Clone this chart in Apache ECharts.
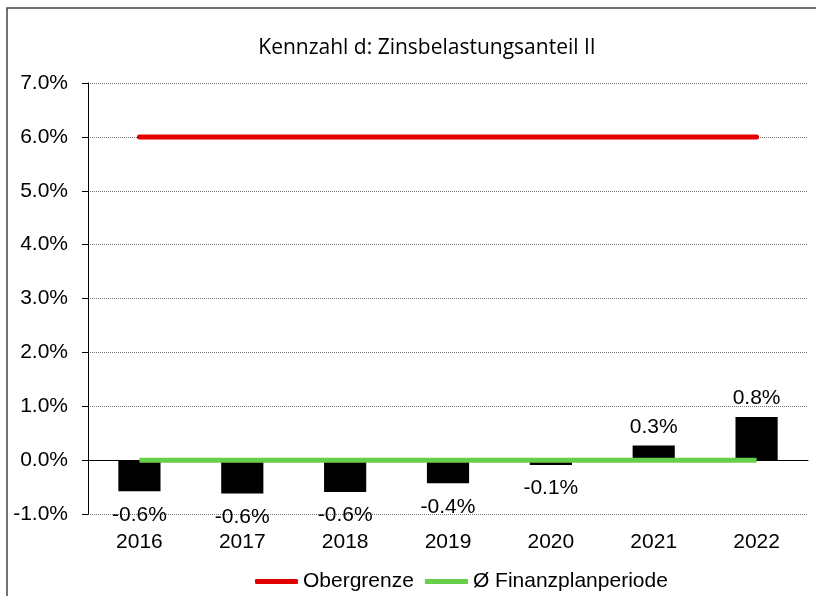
<!DOCTYPE html>
<html>
<head>
<meta charset="utf-8">
<script src="https://cdn.jsdelivr.net/npm/echarts@6/dist/echarts.min.js"></script>
<style>
html,body{margin:0;padding:0;background:#fff;}
#c{width:816px;height:596px;}
</style>
</head>
<body>
<div id="c"></div>
<script>
const categories = ['2016','2017','2018','2019','2020','2021','2022'];
const kennzahl = [-0.58, -0.62, -0.59, -0.43, -0.09, 0.27, 0.80];
const obergrenze = [6.0, 6.0, 6.0, 6.0, 6.0, 6.0, 6.0];
const finanzplan = [0.0, 0.0, 0.0, 0.0, 0.0, 0.0, 0.0];
const yTicks = { min: -1, max: 7, interval: 1 };
const titleText = 'Kennzahl d: Zinsbelastungsanteil II';

const FONT = '"Liberation Sans", Arial, sans-serif';
const RED = '#e00000';
const GREEN = '#66d04a';
const chart = echarts.init(document.getElementById('c'), null, { renderer: 'canvas' });

const barData = kennzahl.map(v => ({
  value: v,
  label: { position: v < 0 ? 'bottom' : 'top', distance: v < 0 ? 13 : 8 }
}));

chart.setOption({
  animation: false,
  backgroundColor: '#fff',
  graphic: [{
    type: 'rect',
    shape: { x: 7, y: 8, width: 830, height: 620 },
    style: { fill: 'none', stroke: '#444', lineWidth: 1.5 },
    silent: true
  }],
  title: {
    text: titleText,
    left: 422, top: 33, textAlign: 'center',
    textStyle: { fontFamily: '"Open Sans", Lato, sans-serif', fontSize: 21, fontWeight: 'normal', color: '#000' }
  },
  legend: {
    top: 566, left: 250,
    itemWidth: 43, itemHeight: 5, itemGap: 11,
    textStyle: { fontFamily: FONT, fontSize: 21, color: '#000' },
    data: [
      { name: 'Obergrenze', icon: 'roundRect', itemStyle: { color: RED } },
      { name: 'Ø Finanzplanperiode', icon: 'rect', itemStyle: { color: GREEN } }
    ]
  },
  grid: { left: 88, right: 8, top: 83, bottom: 82, containLabel: false },
  xAxis: [{
    type: 'category', data: categories, position: 'bottom',
    axisLine: { show: false, onZero: false },
    axisTick: { show: false },
    axisLabel: { fontFamily: FONT, fontSize: 21, color: '#000', margin: 18 }
  }, {
    type: 'category', data: categories,
    axisLine: { show: true, onZero: true, lineStyle: { color: '#000', width: 1 } },
    axisTick: { show: false },
    axisLabel: { show: false }
  }],
  yAxis: {
    type: 'value', min: yTicks.min, max: yTicks.max, interval: yTicks.interval,
    axisLine: { show: true, lineStyle: { color: '#000', width: 1 } },
    axisTick: { show: true, length: 6, lineStyle: { color: '#000' } },
    axisLabel: { fontFamily: FONT, fontSize: 21, color: '#000', margin: 20,
      formatter: v => v.toFixed(1) + '%' },
    splitLine: { show: true, lineStyle: { color: '#777', type: [1, 1], width: 1 } }
  },
  series: [{
    name: 'Kennzahl', type: 'bar', data: barData, barWidth: '41%',
    itemStyle: { color: '#000' },
    label: { show: true, fontFamily: FONT, fontSize: 21, color: '#000',
      formatter: p => p.value.toFixed(1) + '%' },
    z: 2
  }, {
    name: 'Obergrenze', type: 'line', data: obergrenze,
    symbol: 'none', lineStyle: { color: RED, width: 5, cap: 'round' },
    itemStyle: { color: RED }, z: 3
  }, {
    name: 'Ø Finanzplanperiode', type: 'line', data: finanzplan,
    symbol: 'none', lineStyle: { color: GREEN, width: 5 },
    itemStyle: { color: GREEN }, z: 4
  }]
});
</script>
</body>
</html>
